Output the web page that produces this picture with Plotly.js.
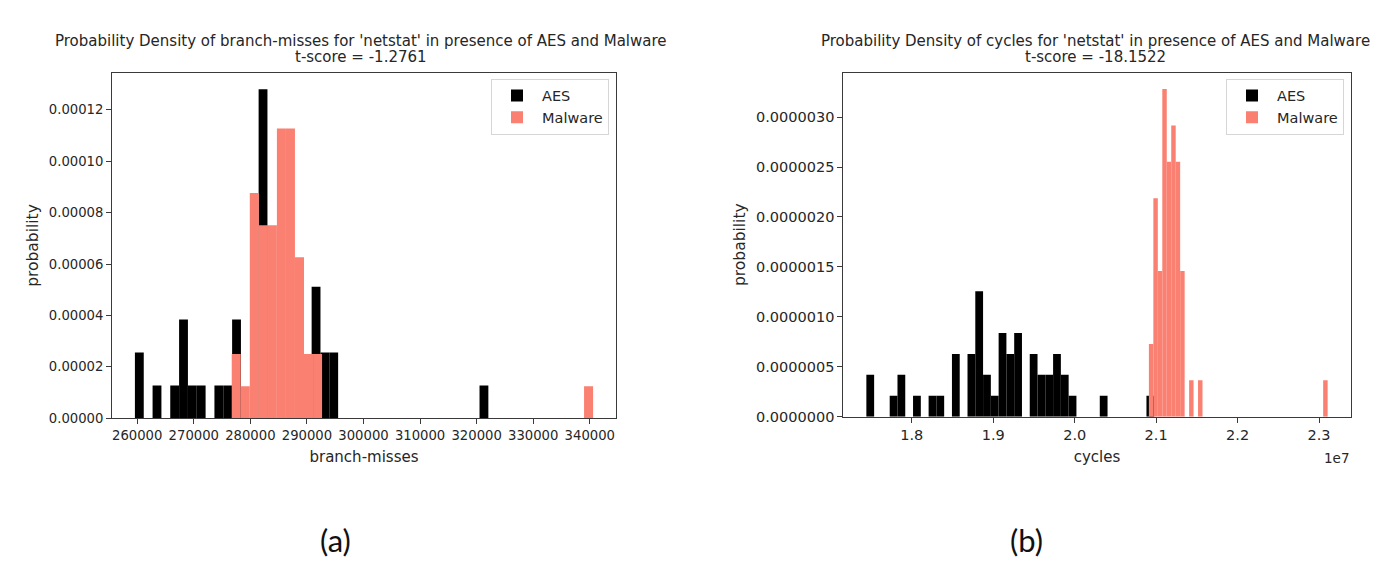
<!DOCTYPE html>
<html>
<head>
<meta charset="utf-8">
<script src="https://cdn.plot.ly/plotly-3.0.1.min.js"></script>
<style>
  html, body { margin: 0; padding: 0; background: #ffffff; }
  #chart { width: 1375px; height: 562px; }
</style>
</head>
<body>
<div id="chart"></div>
<script>
// ---------- (a) branch-misses : histogram bins (centers) and densities ----------
const bmAesCenters = [260374, 263498, 266622, 268184, 269746, 271308, 274432, 275994,
                      277556, 282242, 291614, 293176, 294738, 321292];
const bmAesDensity = [0.0000256, 0.0000128, 0.0000128, 0.0000384, 0.0000128, 0.0000128, 0.0000128, 0.0000128,
                      0.0000384, 0.000128, 0.0000512, 0.0000256, 0.0000256, 0.0000128];
const bmAesBinWidth = 1562;

const bmMalCenters = [277507, 279104, 280701, 282298, 283895, 285492, 287088, 288685,
                      290282, 291879, 339789];
const bmMalDensity = [0.0000250, 0.0000125, 0.0000876, 0.0000751, 0.0000751, 0.0001127, 0.0001127, 0.0000626,
                      0.0000250, 0.0000250, 0.0000125];
const bmMalBinWidth = 1597;

const bmTickVals = [260000, 270000, 280000, 290000, 300000, 310000, 320000, 330000, 340000];
const bmTickText = ['260000', '270000', '280000', '290000', '300000', '310000', '320000', '330000', '340000'];

// ---------- (b) cycles : histogram bins (centers) and densities ----------
const cyAesCenters = [17489765, 17776355, 17871885, 18062945, 18254005, 18349535, 18540595, 18731655,
                      18827185, 18922715, 19018245, 19113775, 19209305, 19304835, 19495895, 19591425,
                      19686955, 19782485, 19878015, 19973545, 20355665, 20928845];
const cyAesDensity = [4.19e-7, 2.09e-7, 4.19e-7, 2.09e-7, 2.09e-7, 2.09e-7, 6.28e-7, 6.28e-7,
                      1.257e-6, 4.19e-7, 2.09e-7, 8.38e-7, 6.28e-7, 8.38e-7, 6.28e-7, 4.19e-7,
                      4.19e-7, 6.28e-7, 4.19e-7, 2.09e-7, 2.09e-7, 2.09e-7];
const cyAesBinWidth = 95530;

const cyMalCenters = [20938435, 20993305, 21048175, 21103045, 21157915, 21212785, 21267655, 21322525,
                      21432265, 21542005, 23078365];
const cyMalDensity = [7.29e-7, 2.187e-6, 1.458e-6, 3.281e-6, 2.552e-6, 2.916e-6, 2.552e-6, 1.458e-6,
                      3.645e-7, 3.645e-7, 3.645e-7];
const cyMalBinWidth = 54870;

const cyTickVals = [18000000, 19000000, 20000000, 21000000, 22000000, 23000000];
const cyTickText = ['1.8', '1.9', '2.0', '2.1', '2.2', '2.3'];

const seriesNames = ['AES', 'Malware'];
const titleA = ["Probability Density of branch-misses for 'netstat' in presence of AES and Malware", "t-score = -1.2761"];
const titleB = ["Probability Density of cycles for 'netstat' in presence of AES and Malware", "t-score = -18.1522"];

// ---------- helpers ----------
function xRange(centersA, wA, centersB, wB) {
  const lo = Math.min(centersA[0] - wA / 2, centersB[0] - wB / 2);
  const hi = Math.max(centersA[centersA.length - 1] + wA / 2, centersB[centersB.length - 1] + wB / 2);
  const pad = (hi - lo) * 0.05;
  return [lo - pad, hi + pad];
}
function yMax(a, b) { return Math.max(...a, ...b) * 1.05; }

const AES_COLOR = '#000000';
const MAL_COLOR = '#FA8072';
const TEXT = '#262626';
const LINE = '#3a3a3a';

const traces = [
  { type: 'bar', name: seriesNames[0], x: bmAesCenters, y: bmAesDensity, width: bmAesBinWidth,
    marker: { color: AES_COLOR, line: { width: 0 } }, xaxis: 'x', yaxis: 'y', legend: 'legend' },
  { type: 'bar', name: seriesNames[1], x: bmMalCenters, y: bmMalDensity, width: bmMalBinWidth,
    marker: { color: MAL_COLOR, line: { width: 0 } }, xaxis: 'x', yaxis: 'y', legend: 'legend' },
  { type: 'bar', name: seriesNames[0], x: cyAesCenters, y: cyAesDensity, width: cyAesBinWidth,
    marker: { color: AES_COLOR, line: { width: 0 } }, xaxis: 'x2', yaxis: 'y2', legend: 'legend2' },
  { type: 'bar', name: seriesNames[1], x: cyMalCenters, y: cyMalDensity, width: cyMalBinWidth,
    marker: { color: MAL_COLOR, line: { width: 0 } }, xaxis: 'x2', yaxis: 'y2', legend: 'legend2' }
];

const W = 1375, H = 562;
const px = v => v / W;
const py = v => (H - v) / H;

function axisBase(tickSize) {
  return {
    showline: true, mirror: true, linecolor: LINE, linewidth: 1,
    ticks: 'outside', ticklen: 5, tickwidth: 1, tickcolor: LINE,
    showgrid: false, zeroline: false, fixedrange: true,
    tickfont: { family: 'DejaVu Sans', size: tickSize, color: TEXT }
  };
}

const legendCommon = {
  xanchor: 'left', yanchor: 'top',
  bgcolor: 'rgba(255,255,255,0.85)', bordercolor: '#d6d6d6', borderwidth: 1,
  font: { family: 'DejaVu Sans', size: 14.5, color: TEXT },
  itemwidth: 40, tracegroupgap: 2
};

const TITLE_SIZE = 15;
function titleAnn(text, xc, yc) {
  return { text: text, xref: 'paper', yref: 'paper', x: px(xc), y: py(yc), xanchor: 'center', yanchor: 'middle',
           showarrow: false, font: { family: 'DejaVu Sans', size: TITLE_SIZE, color: TEXT } };
}

const layout = {
  width: W, height: H,
  margin: { l: 0, r: 0, t: 0, b: 0 },
  paper_bgcolor: '#ffffff', plot_bgcolor: '#ffffff',
  font: { family: 'DejaVu Sans', size: 13, color: TEXT },
  barmode: 'overlay',
  showlegend: true,
  xaxis: Object.assign(axisBase(13.2), {
    domain: [px(112), px(616)], anchor: 'y',
    range: xRange(bmAesCenters, bmAesBinWidth, bmMalCenters, bmMalBinWidth),
    tickmode: 'array', tickvals: bmTickVals, ticktext: bmTickText,
    title: { text: 'branch-misses', standoff: 9, font: { size: 15, color: TEXT } }
  }),
  yaxis: Object.assign(axisBase(13.2), {
    domain: [py(418.3), py(72.7)], anchor: 'x',
    range: [0, yMax(bmAesDensity, bmMalDensity)],
    dtick: 0.00002, tick0: 0, tickformat: '.5f',
    title: { text: 'probability', standoff: 6, font: { size: 15.5, color: TEXT } }
  }),
  xaxis2: Object.assign(axisBase(14.5), {
    domain: [px(843.3), px(1350.7)], anchor: 'y2',
    range: xRange(cyAesCenters, cyAesBinWidth, cyMalCenters, cyMalBinWidth),
    tickmode: 'array', tickvals: cyTickVals, ticktext: cyTickText,
    title: { text: 'cycles', standoff: 9, font: { size: 15, color: TEXT } }
  }),
  yaxis2: Object.assign(axisBase(14.5), {
    domain: [py(416.7), py(72.7)], anchor: 'x2',
    range: [0, yMax(cyAesDensity, cyMalDensity)],
    dtick: 0.0000005, tick0: 0, tickformat: '.7f',
    title: { text: 'probability', standoff: 6, font: { size: 15.5, color: TEXT } }
  }),
  legend: Object.assign({}, legendCommon, { x: px(491), y: py(78.5) }),
  legend2: Object.assign({}, legendCommon, { x: px(1226), y: py(78.5) }),
  annotations: [
    titleAnn(titleA[0], 361, 41),
    titleAnn(titleA[1], 361, 57.5),
    titleAnn(titleB[0], 1095, 41),
    titleAnn(titleB[1], 1095, 57.5),
    { text: '1e7', xref: 'paper', yref: 'paper', x: px(1351), y: py(458), xanchor: 'right', yanchor: 'middle',
      showarrow: false, font: { family: 'DejaVu Sans', size: 13.5, color: TEXT } },
    { text: '(a)', xref: 'paper', yref: 'paper', x: px(335), y: py(540), xanchor: 'center', yanchor: 'middle',
      showarrow: false, font: { family: 'Lato', size: 31, color: '#111111' } },
    { text: '(b)', xref: 'paper', yref: 'paper', x: px(1026), y: py(540), xanchor: 'center', yanchor: 'middle',
      showarrow: false, font: { family: 'Lato', size: 31, color: '#111111' } }
  ]
};

Plotly.newPlot('chart', traces, layout, { displayModeBar: false, staticPlot: true });
</script>
</body>
</html>
